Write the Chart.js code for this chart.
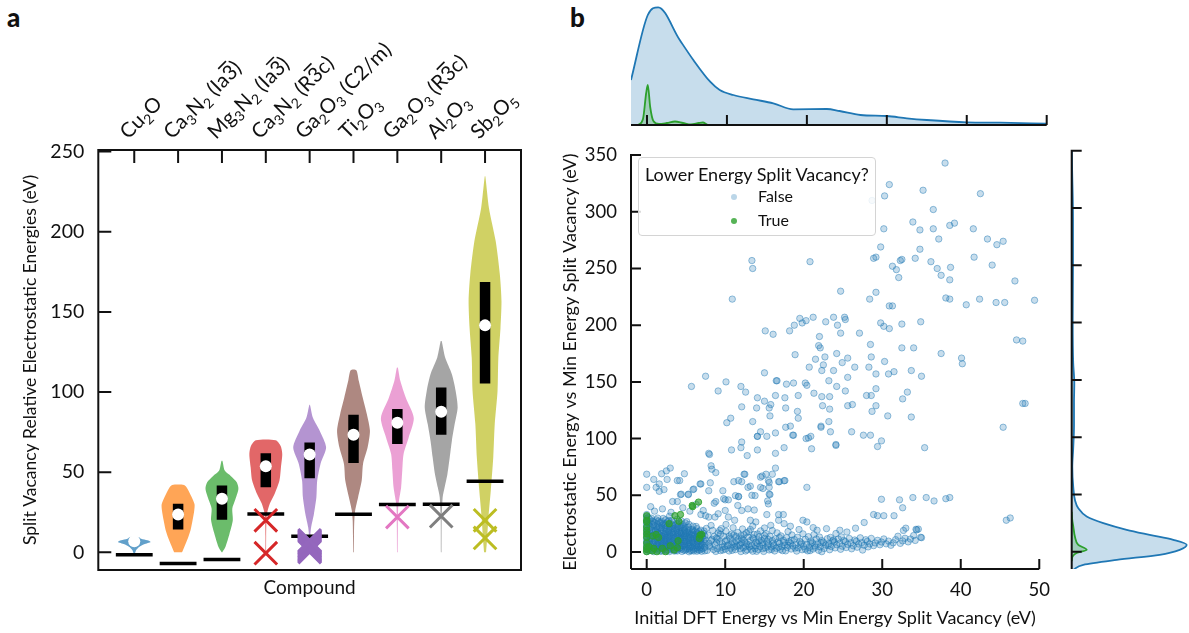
<!DOCTYPE html>
<html>
<head>
<meta charset="utf-8">
<title>Split vacancy energies</title>
<script src="https://cdn.jsdelivr.net/npm/chart.js@4.4.1/dist/chart.umd.min.js"></script>
<style>
  html, body { margin: 0; padding: 0; background: #fff; }
  body { position: relative; width: 1189px; height: 633px; overflow: hidden; font-family: Lato, sans-serif; color: #111; }
  canvas { position: absolute; }
  .tag { position: absolute; font-size: 26px; font-weight: 900; line-height: 1; }
  #legendBox { position: absolute; left: 638px; top: 157px; width: 238px; height: 79px; border: 1.5px solid #d4d4d4; border-radius: 4px; background: rgba(255,255,255,0.85); box-sizing: border-box; }
  .lg { position: absolute; line-height: 1; white-space: nowrap; }
  .dot { position: absolute; width: 6px; height: 6px; border-radius: 50%; }
</style>
</head>
<body>
<div class="tag" style="left:7px;top:4px">a</div>
<div class="tag" style="left:570px;top:4px">b</div>
<canvas id="violin" width="540" height="633" style="left:0;top:0"></canvas>
<canvas id="scatter" width="520" height="503" style="left:540px;top:130px"></canvas>
<canvas id="margTop" width="430" height="130" style="left:625px;top:0"></canvas>
<canvas id="margRight" width="124" height="440" style="left:1065px;top:140px"></canvas>
<div id="legendBox"></div>
<div class="lg" style="left:645px;top:165px;font-size:18px">Lower Energy Split Vacancy?</div>
<span class="dot" style="left:731px;top:194px;background:rgba(31,119,180,0.3)"></span>
<div class="lg" style="left:758px;top:188px;font-size:16px">False</div>
<span class="dot" style="left:731px;top:218px;background:rgba(44,160,44,0.8)"></span>
<div class="lg" style="left:758px;top:212px;font-size:16px">True</div>

<script>
// ---------- panel a data ----------
const compounds = ['Cu₂O', 'Ca₃N₂ (Ia3\u0305)', 'Mg₃N₂ (Ia3\u0305)', 'Ca₃N₂ (R3\u0305c)', 'Ga₂O₃ (C2/m)', 'Ti₂O₃', 'Ga₂O₃ (R3\u0305c)', 'Al₂O₃', 'Sb₂O₅'];
const palette = ['31,119,180', '255,127,14', '44,160,44', '214,39,40', '148,103,189', '140,86,75', '227,119,194', '127,127,127', '188,189,34'];

// violin outlines: energy levels and relative density (1 = widest)
const violinY = [
  [-0.4, 1.4, 3.3, 5, 6.4, 7.5, 8.5, 9.6],
  [0, 4, 9, 14, 20, 26, 30, 35, 40, 42],
  [0, 3.3, 11.6, 20, 27.4, 32.3, 39.6, 43.7, 47.5, 51, 57],
  [0, 10, 20, 25, 30.3, 36.5, 44.8, 53, 61.4, 66.5, 70],
  [0, 11.6, 15.7, 24, 34.4, 44.8, 55.2, 65.5, 75.9, 84, 92],
  [0, 10, 20, 26, 34.4, 44.8, 55.2, 65.5, 75.9, 86.3, 96.6, 107, 113.6],
  [0, 15, 28, 32.3, 40.6, 51, 61.4, 71.7, 83.8, 96.6, 107, 115.2],
  [0, 20, 34.4, 40.6, 48.9, 59.3, 69.7, 80, 90.4, 100.7, 111.1, 121.5, 131.8],
  [0, 7.5, 22, 38.6, 59.3, 80, 100.7, 121.5, 140, 156.7, 173.3, 194, 214.7, 234.5]
];
const violinD = [
  [0.05, 0.12, 0.3, 0.6, 1, 0.8, 0.42, 0.25],
  [0.24, 0.4, 0.6, 0.76, 0.88, 0.98, 1, 0.8, 0.55, 0.36],
  [0.02, 0.21, 0.46, 0.66, 0.63, 0.79, 1, 0.9, 0.55, 0.17, 0.03],
  [0.02, 0.02, 0.04, 0.09, 0.24, 0.54, 0.83, 0.92, 1, 0.9, 0.6],
  [0.03, 0.05, 0.09, 0.26, 0.41, 0.46, 0.66, 1, 0.61, 0.2, 0.02],
  [0.02, 0.03, 0.05, 0.1, 0.28, 0.5, 0.58, 0.86, 1, 0.81, 0.56, 0.32, 0.17],
  [0.02, 0.03, 0.05, 0.1, 0.23, 0.3, 0.38, 0.69, 1, 0.51, 0.18, 0.03],
  [0.02, 0.03, 0.09, 0.21, 0.38, 0.52, 0.65, 0.82, 1, 0.88, 0.65, 0.24, 0.03],
  [0.06, 0.12, 0.21, 0.35, 0.5, 0.59, 0.76, 0.81, 0.94, 1, 0.9, 0.65, 0.24, 0.02]
];
const boxQ1 = [6.5, 14.3, 20.3, 40.6, 46.2, 55.8, 67.6, 73.4, 105.3];
const boxQ3 = [7.5, 30.3, 41.7, 61.8, 68.6, 85.8, 89.4, 102.8, 168.7];
const medians = [7, 23.6, 33.4, 53.7, 61, 73.4, 80.8, 87.7, 141.6];
const refLines = [-1.5, -7, -4.5, 24, 10, 23.8, 29.8, 30, 44.4];
// crosses: compound index and energy
const crossIdx = [3, 3, 4, 4, 4, 4, 4, 4, 4, 4, 4, 4, 4, 4, 4, 4, 6, 7, 8, 8];
const crossVal = [20, -0.5, 0.2, 0.8, 1.3, 1.9, 2.4, 3.0, 3.6, 4.1, 4.7, 5.3, 5.8, 6.4, 6.9, 7.5, 22, 22.6, 20, 9];
const violinTicks = [0, 50, 100, 150, 200, 250];

// ---------- panel b data ----------
const falseCore = [
  [0,0.5],[0,2.3],[0,4.1],[0,6.0],[0,7.8],[0,9.5],[0,11.4],[0,13.2],[0,15.1],[0,16.8],[0,18.7],[0,20.4],[0,22.3],[0,24.0],[0,25.9],[0,27.6],[0,29.5],[0,31.2],[0,33.0],
  [0.4,1.2],[0.4,3.6],[0.4,6.9],[0.4,10.3],[0.4,14.0],[0.4,17.5],[0.4,21.2],[0.4,25.4],[0.4,28.8],
  [0.9,0.3],[0.9,2.8],[0.9,5.5],[0.9,8.7],[0.9,12.1],[0.9,15.6],[0.9,19.3],[0.9,23.0],[0.9,26.7],
  [1.4,1.6],[1.4,4.3],[1.4,7.4],[1.4,10.8],[1.4,13.9],[1.4,17.2],[1.4,20.8],[1.4,24.6],[1.4,29.9],
  [1.9,0.6],[1.9,3.2],[1.9,6.1],[1.9,9.4],[1.9,12.7],[1.9,16.3],[1.9,19.9],[1.9,23.7],[1.9,27.1],
  [2.4,1.9],[2.4,4.8],[2.4,8.0],[2.4,11.2],[2.4,14.6],[2.4,18.1],[2.4,21.6],[2.4,25.2],[2.4,28.4],
  [2.9,0.4],[2.9,3.5],[2.9,6.6],[2.9,9.9],[2.9,13.3],[2.9,16.9],[2.9,20.3],[2.9,24.1],[2.9,31.6],
  [3.4,2.2],[3.4,5.2],[3.4,8.4],[3.4,11.7],[3.4,15.2],[3.4,18.6],[3.4,22.4],[3.4,26.0],
  [3.9,0.9],[3.9,3.9],[3.9,7.1],[3.9,10.4],[3.9,13.8],[3.9,17.4],[3.9,21.0],[3.9,24.8],[3.9,28.9],
  [4.4,2.6],[4.4,5.8],[4.4,9.0],[4.4,12.3],[4.4,15.9],[4.4,19.5],[4.4,23.2],[4.4,27.4],
  [4.9,1.3],[4.9,4.5],[4.9,7.7],[4.9,11.0],[4.9,14.4],[4.9,18.0],[4.9,21.9],[4.9,25.7],
  [5.4,0.2],[5.4,3.3],[5.4,6.4],[5.4,9.7],[5.4,13.1],[5.4,16.6],[5.4,20.1],[5.4,24.2],
  [5.9,2.0],[5.9,5.0],[5.9,8.3],[5.9,11.6],[5.9,15.0],[5.9,18.8],[5.9,22.8],
  [6.4,0.7],[6.4,3.8],[6.4,7.0],[6.4,10.1],[6.4,13.6],[6.4,17.0],[6.4,20.6],
  [6.9,2.4],[6.9,5.6],[6.9,8.8],[6.9,12.2],[6.9,15.7],[6.9,19.2],
  [7.4,1.0],[7.4,4.2],[7.4,7.5],[7.4,10.9],[7.4,14.3],
  [1.0,36],[2.0,38],[3.1,35],[4.6,39],[5.5,36],[6.3,42],[0.5,40],[6.9,33]
];
const falseCore2 = [
  [0.2,1.5],[0.6,4.8],[0.3,8.2],[0.7,11.9],[0.2,15.8],[0.6,19.6],[0.3,23.1],[0.7,27.2],[0.2,30.4],
  [1.1,2.6],[1.3,6.3],[1.0,9.9],[1.2,13.4],[1.1,17.9],[1.3,22.2],[1.0,25.8],[1.2,28.3],
  [1.7,0.9],[1.6,5.2],[1.8,8.6],[1.6,11.5],[1.7,15.0],[1.8,18.4],[1.6,22.0],[1.7,26.0],
  [2.2,3.0],[2.1,6.9],[2.3,10.2],[2.2,13.6],[2.1,17.0],[2.3,20.9],[2.2,24.3],[2.1,29.6],
  [2.7,1.5],[2.6,5.3],[2.8,8.8],[2.6,12.2],[2.7,15.4],[2.8,19.0],[2.6,22.7],[2.7,26.5],
  [3.2,3.1],[3.1,6.8],[3.3,10.0],[3.1,13.9],[3.2,17.3],[3.3,20.5],[3.1,24.9],[3.2,28.0],
  [3.7,1.3],[3.6,5.9],[3.8,9.1],[3.6,12.6],[3.7,16.2],[3.8,19.8],[3.6,23.5],
  [4.2,3.4],[4.1,7.0],[4.3,10.6],[4.1,14.1],[4.2,17.9],[4.3,21.5],[4.1,25.6],
  [4.7,1.8],[4.6,5.5],[4.8,9.4],[4.6,12.9],[4.7,16.5],[4.8,20.2],[4.6,24.1],
  [5.2,3.0],[5.1,6.8],[5.3,10.4],[5.1,14.0],[5.2,17.5],[5.3,22.0],[5.1,26.8],
  [5.7,1.2],[5.6,4.9],[5.8,9.0],[5.6,12.5],[5.7,16.0],[5.8,19.9],
  [6.2,2.9],[6.1,6.6],[6.3,11.4],[6.1,14.9],[6.2,18.6],[6.3,22.5],
  [6.7,1.5],[6.6,5.0],[6.8,10.2],[6.6,13.8],[6.7,17.9],
  [7.2,3.1],[7.1,6.4],[7.3,9.3],[7.1,12.8],[7.2,16.6]
];
const falseCore3 = [
  [0.1,3.3],[0.5,6.1],[0.1,9.0],[0.6,13.0],[0.1,17.2],[0.5,21.9],[0.1,26.2],[0.6,29.8],
  [0.8,1.8],[1.1,4.6],[0.8,7.2],[1.1,10.9],[0.8,14.6],[1.1,19.0],[0.8,24.2],
  [1.5,2.9],[1.3,5.0],[1.5,8.1],[1.3,12.0],[1.5,16.2],[1.3,20.0],[1.5,27.3],
  [2.0,1.7],[1.8,4.2],[2.0,7.5],[1.8,10.4],[2.0,14.1],[1.8,21.3],[2.0,25.5],
  [2.5,0.9],[2.3,3.8],[2.5,6.4],[2.3,9.5],[2.5,13.0],[2.3,16.0],[2.5,19.8],[2.3,23.3],
  [3.0,2.1],[2.8,5.0],[3.0,8.0],[2.8,11.5],[3.0,14.8],[2.8,18.0],[3.0,21.8],[2.8,27.6],
  [3.5,0.8],[3.3,4.2],[3.5,7.0],[3.3,9.6],[3.5,13.0],[3.3,16.6],[3.5,20.4],[3.3,23.8],
  [4.0,2.6],[3.8,5.5],[4.0,8.6],[3.8,11.8],[4.0,15.5],[3.8,18.8],[4.0,22.5],
  [4.5,0.5],[4.3,4.0],[4.5,7.4],[4.3,11.4],[4.5,14.2],[4.3,17.0],[4.5,21.1],
  [5.0,2.5],[4.8,6.0],[5.0,9.2],[4.8,12.6],[5.0,16.0],[4.8,19.2],
  [5.5,1.5],[5.3,5.0],[5.5,8.0],[5.3,11.8],[5.5,15.3],[5.3,18.5],
  [6.0,0.8],[5.8,4.1],[6.0,7.6],[5.8,10.6],[6.0,13.6],[5.8,17.2],
  [6.5,2.1],[6.3,5.6],[6.5,9.0],[6.3,12.5],[6.5,16.1],
  [7.0,0.6],[6.8,3.8],[7.0,7.0],[6.8,11.3],[7.0,14.0]
];
const falseBand = [
  [7.7,1.4],[8.1,4.3],[7.9,7.8],[8.3,11.2],[7.8,14.9],[8.4,19.1],[8.2,23.4],
  [8.8,0.5],[9.0,2.9],[8.7,6.1],[9.3,9.2],[8.9,12.4],[9.1,16.8],[9.5,20.6],
  [9.7,1.7],[9.9,4.8],[9.6,7.4],[10.2,10.6],[9.8,13.9],[10.1,18.2],
  [10.5,0.9],[10.7,3.3],[10.4,6.5],[10.9,8.9],[10.6,12.3],[10.8,15.7],[11.0,21.4],
  [11.3,2.1],[11.5,5.2],[11.2,7.9],[11.7,11.0],[11.4,13.6],[11.6,17.2],
  [12.0,0.4],[12.3,3.7],[11.9,6.3],[12.5,8.7],[12.1,12.0],[12.4,15.1],[12.2,20.3],
  [12.8,1.9],[13.1,4.5],[12.7,7.3],[13.2,10.1],[12.9,13.3],[13.0,17.9],
  [13.5,0.7],[13.8,3.1],[13.4,5.8],[13.9,8.6],[13.6,11.7],[13.7,15.4],[13.5,22.8],
  [14.2,2.2],[14.4,4.9],[14.1,7.5],[14.6,10.3],[14.3,13.4],[14.5,18.6],
  [14.9,0.5],[15.1,3.6],[14.8,6.4],[15.3,9.0],[15.0,12.0],[15.2,16.1],[15.0,21.2],
  [15.6,1.8],[15.9,4.4],[15.5,7.2],[16.0,10.1],[15.7,13.9],
  [16.3,0.9],[16.5,3.3],[16.2,5.9],[16.7,8.7],[16.4,11.6],[16.6,16.9],
  [17.0,2.3],[17.2,4.8],[16.9,7.6],[17.4,10.4],[17.1,14.2],
  [17.7,1.0],[17.9,3.9],[17.6,6.2],[18.1,9.1],[17.8,12.7],[18.0,18.0],
  [18.4,2.6],[18.6,5.3],[18.3,7.9],[18.8,11.0],[18.5,15.0],
  [19.1,0.8],[19.3,3.6],[19.0,6.6],[19.5,9.4],[19.2,13.0],
  [19.8,2.0],[20.0,4.9],[19.7,8.0],[20.2,11.2],[19.9,16.0],
  [20.5,1.0],[20.7,3.9],[20.4,6.9],[20.9,9.7],[20.6,13.5],
  [21.2,2.6],[21.4,5.6],[21.1,8.4],[21.6,11.5],[21.3,15.3],
  [21.9,1.5],[22.1,4.5],[21.8,7.3],[22.3,10.0],[22.0,13.2],
  [22.6,3.1],[22.8,6.0],[22.5,8.6],[23.0,11.7],
  [23.3,2.0],[23.5,4.8],[23.2,7.5],[23.7,9.9],[23.4,12.9],
  [24.0,3.6],[24.2,6.4],[23.9,8.9],[24.4,11.4],[24.1,16.3],
  [24.7,2.4],[24.9,5.1],[24.6,7.7],[25.1,10.2],[24.8,13.3],
  [25.4,3.9],[25.6,6.7],[25.3,9.2],[25.8,11.9],[25.5,17.6],
  [26.1,2.8],[26.3,5.5],[26.0,8.1],[26.5,10.6],
  [26.8,4.2],[27.0,7.0],[26.7,9.5],[27.2,12.5],
  [27.5,1.7],[27.7,5.9],[27.4,8.3],[27.9,10.8],
  [28.2,4.5],[28.4,7.1],[28.1,9.4],[28.6,12.0],
  [28.9,5.6],[29.1,8.0],[29.4,10.3],
  [29.7,6.4],[29.9,8.8],[30.2,11.5],
  [30.5,7.2],[30.8,9.6],[31.1,5.9],
  [31.4,8.1],[31.7,10.9],[32.0,13.9],
  [32.3,7.6],[32.6,9.8],[32.9,12.1],
  [33.3,8.9],[33.6,11.4],[34.0,14.5],
  [34.4,19.5],[34.6,20.2],[35.0,12.6],[34.2,10.2],
  [20.8,1.2],[22.3,0.3]
];
const falseBand2 = [
  [7.3,18.5],[7.6,20.8],[8.5,2.2],[8.0,5.4],[8.9,8.4],[8.2,10.0],[8.6,13.8],[9.4,1.2],[9.6,4.1],[9.0,11.3],
  [9.4,15.6],[9.3,19.0],[10.0,2.5],[10.3,5.6],[10.0,9.4],[10.5,14.1],[10.1,24.3],[10.9,1.5],[11.2,4.4],[10.8,6.9],
  [11.4,9.6],[11.1,15.0],[11.9,2.9],[11.7,5.8],[12.1,8.1],[12.0,14.4],[12.6,0.9],[12.6,5.0],[12.3,10.9],[12.7,17.0],
  [13.3,2.4],[13.0,6.5],[13.5,12.6],[13.2,19.8],[14.0,0.6],[13.9,5.4],[14.3,9.8],[14.1,15.9],[14.8,2.9],[14.7,8.2],
  [15.0,14.6],[15.4,5.2],[15.5,11.0],[15.9,2.3],[16.1,7.9],[16.0,18.9],[16.8,4.2],[16.9,12.8],[17.3,1.2],[17.5,8.4],
  [18.0,5.9],[18.4,10.3],[18.9,3.4],[19.6,6.8],[20.2,2.5],[20.9,7.6],[21.5,4.1],[22.2,8.2],[23.1,5.6],[23.8,10.7]
];
const falseSparse = [
  [38.0,343],[30.9,324],[30.3,314],[35.2,319],[42.5,316],[28.7,310],[36.5,302],[33.9,291],[34.8,284],[36.5,285],
  [30.2,285],[38.6,288],[39.2,290],[41.6,285],[37.2,276],[43.4,276],[44.6,271],[45.4,274],[29.8,269],[34.8,267],
  [29.2,260],[28.9,259],[34.2,259],[32.5,258],[32.3,257],[36.2,256],[41.7,260],[31.3,252],[31.8,249],[32.1,242],
  [37.0,250],[38.7,251],[37.5,244],[38.6,240],[44.0,253],[46.9,239],[13.4,257],[13.5,250],[20.8,256],[10.9,223],
  [24.7,230],[29.2,229],[28.4,223],[38.1,224],[38.6,223],[42.4,223],[40.7,218],[44.5,220],[45.6,220],[49.4,222],
  [30.9,217],[31.3,217],[34.9,203],[32.5,201],[29.8,202],[30.2,199],[30.9,197],[25.2,207],[25.3,205],[24.3,200],
  [22.8,203],[21.2,207],[20.3,204],[19.5,206],[18.8,200],[19.8,202],[18.2,195],[15.1,195],[16.1,192],[23.8,207],
  [27.1,193],[24.7,193],[47.1,187],[47.9,186],[28.5,183],[32.5,180],[34.0,180],[37.5,175],[18.9,174],[22.0,190],
  [21.9,182],[22.1,180],[22.7,172],[21.5,170],[20.7,163],[22.5,165],[24.2,175],[24.9,167],[25.6,171],[26.5,163],
  [28.3,163],[28.6,172],[30.3,168],[40.1,171],[40.2,166],[33.7,160],[31.5,159],[30.8,157],[29.2,157],[22.3,160],
  [23.8,160],[25.6,154],[35.0,155],[15.0,158],[7.5,155],[5.7,146],[10.1,150],[9.1,142],[12.0,146],[12.6,141],
  [14.1,136],[15.0,133],[16.4,138],[16.5,151],[16.6,151],[17.8,148],[18.7,149],[19.3,138],[20.2,149],[20.4,147],
  [21.3,140],[22.3,137],[23.3,137],[23.2,151],[24.2,146],[25.3,142],[28.0,138],[28.6,138],[29.2,144],[33.2,141],
  [32.6,135],[15.8,130],[17.6,136],[15.6,127],[14.0,127],[12.1,128],[17.7,127],[19.2,124],[22.4,129],[23.3,126],
  [26.2,130],[25.6,129],[28.7,124],[29.2,129],[33.7,119],[30.7,120],[47.9,131],[48.2,131],[45.4,110],[10.2,114],
  [10.7,118],[13.5,115],[15.7,120],[14.5,106],[14.1,102],[15.3,102],[16.4,105],[17.7,110],[19.3,118],[18.3,111],
  [18.7,103],[20.3,100],[20.9,102],[22.2,110],[23.2,115],[23.4,106],[26.1,106],[27.6,103],[28.5,103],[29.9,98],
  [29.4,93],[24.1,94],[21.0,91],[17.5,92],[16.4,87],[14.1,90],[12.8,85],[12.1,97],[12.0,92],[10.8,90],
  [7.9,87],[35.4,92],[38.6,48],[38.1,47],[36.6,45],[35.6,48],[33.9,48],[32.2,46],[29.9,46.5],[32.6,39],
  [45.8,28],[46.3,30],[34.9,13],[34.3,20],[33.0,21],[32.7,19],[31.5,32],[30.2,32],[28.9,33],[29.4,32],
  [27.7,26],[26.6,21],[20.6,100.6],[18.6,103],[22.2,111],[24.1,94.8],
  [0,68.6],[0,57],[0.9,64],[1.6,60],[1.2,57],[1.9,69],[2.5,71.5],[3.0,74],[2.6,64],[3.9,63],
  [4.2,63],[4.8,69],[6.0,55.5],[6.9,60],[7.9,54],[8.2,76],[8.3,73],[8.8,70],[8.1,61],[9.7,54],
  [11.1,62],[11.7,63],[12.1,62],[12.4,68.6],[13.2,58],[14.5,66],[15.2,68.6],[15.5,63],[16.0,68.6],[16.9,62],
  [17.6,63],[14.8,56],[15.6,51],[13.4,50],[9.8,47],[10.4,46],[11.7,49],[4.4,51],[3.3,44.5],[3.9,44.5],
  [5.3,51],[5.9,55],[1.6,53.5],[8.0,86],[2.2,55],[4.3,50.6],[5.3,50.6],[6.8,60],[8.6,43],[8.8,44.5],
  [7.2,36.6],[7.5,32],[7.9,30.8],[8.7,30.8],[9.1,33.7],[10.0,46],[10.0,36.6],[10.4,30.8],[11.2,28],[12.1,36.6],
  [12.9,38],[13.7,37],[13.2,28],[13.9,26.5],[13.8,49.7],[14.7,67],[15.6,61.3],[15.6,57],[14.5,57],[15.4,45],
  [15.7,50.6],[15.5,42.4],[16.4,74],[16.8,62],[17.5,62.8],[15.3,33],[16.8,33],[17.4,33],[15.8,23.5],[16.8,28],
  [17.5,25],[18.3,22.7],[19.9,28],[20.4,26.5],[19.4,19.8],[21.2,21.5],[21.7,19.2],[22.9,20.6],[20.4,57],[11.6,41],
  [11.3,49.7],[11.7,48.8],[12.5,68.6],[12.9,57],[24.6,19.2],[14.1,102]
];
const truePoints = [
  [0,0.3],[0,2.3],[0,4.5],[0,8],[0,13],[0,16],[0,19],[0,22],[0,26.5],[0,28],[0,32],
  [0.3,4.6],[0.7,1],[0.75,14],[0.9,3.2],[1.2,15.4],[1.3,0.3],[1.5,12.8],[2.0,3.2],[2.4,0.3],[2.85,25],
  [3.0,5.5],[3.5,1.7],[3.6,32],[3.9,3.8],[4.0,9.9],[4.1,27],[4.3,33],[5.8,41],[5.85,40],
  [6.6,44],[6.7,12],[6.8,15],[7.0,15.4]
];
const scatterXTicks = [0, 10, 20, 30, 40, 50];
const scatterYTicks = [0, 50, 100, 150, 200, 250, 300, 350];

// marginal densities (arbitrary units)
const kdeXGrid = [-2, 0.1, 1.4, 4.1, 5.8, 7.9, 9.1, 10.8, 13.3, 15.8, 18.3, 22.5, 24.1, 26.7, 30, 32.5, 35, 40, 44.2, 50];
const kdeXFalse = [45, 110, 117.7, 85, 65, 43.3, 35, 30, 25.7, 21.7, 15.7, 16, 14, 10, 9, 6.7, 5, 2.7, 2.3, 1.3];
const kdeXGridTrue = [-1.1, -0.5, -0.1, 0.1, 0.4, 0.8, 1.5, 2.5, 3.5, 4.5, 5.5, 6.5, 7.0, 7.5, 8.0];
const kdeXTrue = [0, 6, 32, 40, 18, 4, 1, 2, 3.5, 2, 0.5, 2, 2.5, 0.5, 0];
const kdeYGrid = [-15.7, -11.3, -7, -2.6, 1.7, 6.1, 10.5, 14.8, 19.2, 25, 30.8, 38, 45, 56, 74, 90, 110, 130, 147, 165, 200, 250, 290, 340, 350];
const kdeYFalse = [1.6, 11.6, 45, 88, 108, 115, 101.6, 78, 55, 31.6, 15, 6.6, 3.3, 1.6, 0.6, 1.5, 2.3, 2.3, 2.6, 1.5, 1, 1.3, 1.3, 0.3, 0.2];
const kdeYGridTrue = [-8, -4, -1, 1.7, 6, 13, 22, 28, 35];
const kdeYTrue = [0, 1, 5, 15, 6.6, 3.3, 1.6, 0.5, 0];

// ---------- shared setup ----------
Chart.defaults.font.family = 'Lato, sans-serif';
Chart.defaults.color = '#111';
Chart.defaults.animation = false;
Chart.defaults.events = [];
Chart.defaults.plugins.legend.display = false;
Chart.defaults.plugins.tooltip.enabled = false;

const INK = '#111';
const VIOLIN_HALF = 0.375;
const REF_HALF = 0.42;

function strokeTicks(ctx, segs) {
  ctx.beginPath();
  segs.forEach(s => { ctx.moveTo(s[0], s[1]); ctx.lineTo(s[2], s[3]); });
  ctx.stroke();
}

// compound names: subscript digits and an overline (combining mark) on the glyph before it
const SUB = '₀₁₂₃₄₅₆₇₈₉';
function drawCompound(ctx, label, x, y) {
  ctx.save();
  ctx.translate(x, y);
  ctx.rotate(-Math.PI / 4);
  ctx.textBaseline = 'alphabetic';
  ctx.textAlign = 'left';
  const chars = Array.from(label);
  let cx = 0;
  for (let k = 0; k < chars.length; k++) {
    const ch = chars[k];
    const s = SUB.indexOf(ch);
    if (s >= 0) {
      ctx.font = '14px Lato';
      ctx.fillText(String(s), cx, 4.5);
      cx += ctx.measureText(String(s)).width;
      continue;
    }
    ctx.font = '20.5px Lato';
    ctx.fillText(ch, cx, 0);
    const w = ctx.measureText(ch).width;
    const nx = chars[k + 1];
    if (nx === '\u0305' || nx === '\u0304') {
      ctx.fillRect(cx + 0.5, -18.5, w - 1, 1.6);
      k++;
    }
    cx += w;
  }
  ctx.restore();
}

// ---------- panel a: violins ----------
function violinPolygon(i) {
  const right = violinY[i].map((v, k) => ({x: i + violinD[i][k] * VIOLIN_HALF, y: v}));
  const left = violinY[i].map((v, k) => ({x: i - violinD[i][k] * VIOLIN_HALF, y: v})).reverse();
  return right.concat(left);
}

const violinSets = compounds.map((c, i) => ({
  data: violinPolygon(i), showLine: true, fill: 'shape', tension: 0.25,
  backgroundColor: 'rgba(' + palette[i] + ',0.7)', borderWidth: 0, pointRadius: 0, order: 5
}));
const boxSets = compounds.map((c, i) => ({
  data: [{x: i, y: boxQ1[i]}, {x: i, y: boxQ3[i]}], showLine: true,
  borderColor: '#000', borderWidth: 10.5, borderCapStyle: 'butt', pointRadius: 0, order: 3
}));
const refSets = compounds.map((c, i) => ({
  data: [{x: i - REF_HALF, y: refLines[i]}, {x: i + REF_HALF, y: refLines[i]}], showLine: true,
  borderColor: '#000', borderWidth: 3.5, borderCapStyle: 'butt', pointRadius: 0, order: 1
}));
const medianSet = {
  data: compounds.map((c, i) => ({x: i, y: medians[i]})),
  pointRadius: 6, backgroundColor: '#fff', borderWidth: 0, order: 2
};
const crossSet = {
  data: crossIdx.map((c, k) => ({x: c, y: crossVal[k]})),
  pointStyle: 'crossRot', pointRadius: 16, pointBorderWidth: 3,
  pointBorderColor: crossIdx.map(c => 'rgb(' + palette[c] + ')'), order: 0
};

const violinDeco = {
  id: 'violinDeco',
  afterDraw(chart) {
    const {ctx, chartArea: a, scales: {x, y}} = chart;
    ctx.save();
    ctx.strokeStyle = INK;
    ctx.lineWidth = 2;
    ctx.strokeRect(a.left, a.top, a.right - a.left, a.bottom - a.top);
    const segs = [];
    violinTicks.forEach(v => { const py = y.getPixelForValue(v); segs.push([a.left, py, a.left + 13, py]); });
    compounds.forEach((c, i) => { const px = x.getPixelForValue(i); segs.push([px, a.top, px, a.top + 13]); });
    strokeTicks(ctx, segs);
    ctx.fillStyle = INK;
    compounds.forEach((c, i) => drawCompound(ctx, c, x.getPixelForValue(i) - 6, a.top - 10));
    ctx.restore();
  }
};

new Chart(document.getElementById('violin'), {
  type: 'scatter',
  data: { datasets: [crossSet, ...refSets, medianSet, ...boxSets, ...violinSets] },
  options: {
    responsive: false,
    layout: { padding: { left: 0, right: 18.3, top: 0, bottom: 0 } },
    scales: {
      x: {
        type: 'linear', position: 'top', min: -0.82, max: 8.82,
        grid: { display: false, drawTicks: false }, border: { display: false }, ticks: { display: false },
        afterFit: s => { s.height = 150; }
      },
      x2: {
        type: 'linear', position: 'bottom', min: -0.82, max: 8.82,
        grid: { display: false, drawTicks: false }, border: { display: false }, ticks: { display: false },
        title: { display: true, text: 'Compound', font: { size: 19 }, padding: { top: 0, bottom: 34 } },
        afterFit: s => { s.height = 63; }
      },
      y: {
        type: 'linear', min: -11, max: 251,
        afterBuildTicks: s => { s.ticks = violinTicks.map(v => ({value: v})); },
        grid: { display: false, drawTicks: false }, border: { display: false },
        ticks: { font: { size: 19.5 }, padding: 14 },
        title: { display: true, text: 'Split Vacancy Relative Electrostatic Energies (eV)', font: { size: 17.5 }, padding: { top: 20, bottom: 0 } },
        afterFit: s => { s.width = 98.3; }
      }
    }
  },
  plugins: [violinDeco]
});

// ---------- panel b: scatter ----------
const scatterDeco = {
  id: 'scatterDeco',
  afterDraw(chart) {
    const {ctx, chartArea: a, scales: {x, y}} = chart;
    ctx.save();
    ctx.strokeStyle = INK;
    ctx.lineWidth = 2;
    const segs = [[a.left, a.top - 1, a.left, a.bottom], [a.left, a.bottom, a.right, a.bottom]];
    scatterXTicks.forEach(v => { const px = x.getPixelForValue(v); segs.push([px, a.bottom, px, a.bottom - 10]); });
    scatterYTicks.forEach(v => { const py = y.getPixelForValue(v); segs.push([a.left, py, a.left + 10, py]); });
    strokeTicks(ctx, segs);
    ctx.restore();
  }
};

const toXY = p => ({x: p[0], y: p[1]});
const falsePoints = falseCore.concat(falseCore2, falseCore3, falseBand, falseBand2, falseSparse);

new Chart(document.getElementById('scatter'), {
  type: 'scatter',
  data: {
    datasets: [
      { label: 'True', data: truePoints.map(toXY), pointRadius: 3.2, borderWidth: 1,
        backgroundColor: 'rgba(44,160,44,0.65)', borderColor: 'rgba(44,160,44,0.85)', order: 0 },
      { label: 'False', data: falsePoints.map(toXY), pointRadius: 3.2, borderWidth: 1,
        backgroundColor: 'rgba(31,119,180,0.25)', borderColor: 'rgba(31,119,180,0.45)', order: 1 }
    ]
  },
  options: {
    responsive: false,
    layout: { padding: { left: 0, right: 13.3, top: 20.7, bottom: 0 } },
    scales: {
      x: {
        type: 'linear', min: -2, max: 50,
        afterBuildTicks: s => { s.ticks = scatterXTicks.map(v => ({value: v})); },
        grid: { display: false, drawTicks: false }, border: { display: false },
        ticks: { font: { size: 18.5 }, padding: 10 },
        title: { display: true, text: 'Initial DFT Energy vs Min Energy Split Vacancy (eV)', font: { size: 18 }, padding: { top: 0, bottom: 4 } },
        afterFit: s => { s.height = 64; }
      },
      y: {
        type: 'linear', min: -15, max: 350,
        afterBuildTicks: s => { s.ticks = scatterYTicks.map(v => ({value: v})); },
        grid: { display: false, drawTicks: false }, border: { display: false },
        ticks: { font: { size: 18.5 }, padding: 14 },
        title: { display: true, text: 'Electrostatic Energy vs Min Energy Split Vacancy (eV)', font: { size: 18 }, padding: { top: 19, bottom: 0 } },
        afterFit: s => { s.width = 91; }
      }
    }
  },
  plugins: [scatterDeco]
});

// ---------- marginal densities ----------
const hidden = { display: false };

new Chart(document.getElementById('margTop'), {
  type: 'line',
  data: {
    datasets: [
      { data: kdeXGridTrue.map((v, k) => ({x: v, y: kdeXTrue[k]})), borderColor: '#2ca02c', borderWidth: 1.8,
        backgroundColor: 'rgba(44,160,44,0.25)', fill: 'origin', pointRadius: 0, cubicInterpolationMode: 'monotone', order: 0 },
      { data: kdeXGrid.map((v, k) => ({x: v, y: kdeXFalse[k]})), borderColor: '#1f77b4', borderWidth: 1.8,
        backgroundColor: 'rgba(31,119,180,0.25)', fill: 'origin', pointRadius: 0, cubicInterpolationMode: 'monotone', order: 1 }
    ]
  },
  options: {
    responsive: false,
    layout: { padding: { left: 6, right: 8.3, top: 5, bottom: 5 } },
    scales: {
      x: Object.assign({ type: 'linear', min: -2, max: 50 }, hidden),
      y: Object.assign({ type: 'linear', min: 0, max: 120 }, hidden)
    }
  },
  plugins: [{
    id: 'topDeco',
    afterDraw(chart) {
      const {ctx, chartArea: a, scales: {x}} = chart;
      ctx.save();
      ctx.strokeStyle = INK;
      ctx.lineWidth = 2;
      const segs = [[a.left, a.bottom, a.right, a.bottom]];
      scatterXTicks.forEach(v => { const px = x.getPixelForValue(v); segs.push([px, a.bottom, px, a.bottom - 10]); });
      strokeTicks(ctx, segs);
      ctx.restore();
    }
  }]
});

new Chart(document.getElementById('margRight'), {
  type: 'line',
  data: {
    datasets: [
      { data: kdeYGridTrue.map((v, k) => ({x: kdeYTrue[k], y: v})), borderColor: '#2ca02c', borderWidth: 1.8,
        backgroundColor: 'rgba(44,160,44,0.25)', fill: 'origin', pointRadius: 0, cubicInterpolationMode: 'monotone', order: 0 },
      { data: kdeYGrid.map((v, k) => ({x: kdeYFalse[k], y: v})), borderColor: '#1f77b4', borderWidth: 1.8,
        backgroundColor: 'rgba(31,119,180,0.25)', fill: 'origin', pointRadius: 0, cubicInterpolationMode: 'monotone', order: 1 }
    ]
  },
  options: {
    responsive: false,
    indexAxis: 'y',
    layout: { padding: { left: 6.7, right: 0, top: 10.7, bottom: 11 } },
    scales: {
      x: Object.assign({ type: 'linear', min: 0, max: 117.3 }, hidden),
      y: Object.assign({ type: 'linear', min: -15, max: 350 }, hidden)
    }
  },
  plugins: [{
    id: 'rightDeco',
    afterDraw(chart) {
      const {ctx, chartArea: a, scales: {y}} = chart;
      ctx.save();
      ctx.strokeStyle = INK;
      ctx.lineWidth = 2;
      const segs = [[a.left, a.top - 1, a.left, a.bottom]];
      scatterYTicks.forEach(v => { const py = y.getPixelForValue(v); segs.push([a.left, py, a.left + 10, py]); });
      strokeTicks(ctx, segs);
      ctx.restore();
    }
  }]
});
</script>
</body>
</html>
